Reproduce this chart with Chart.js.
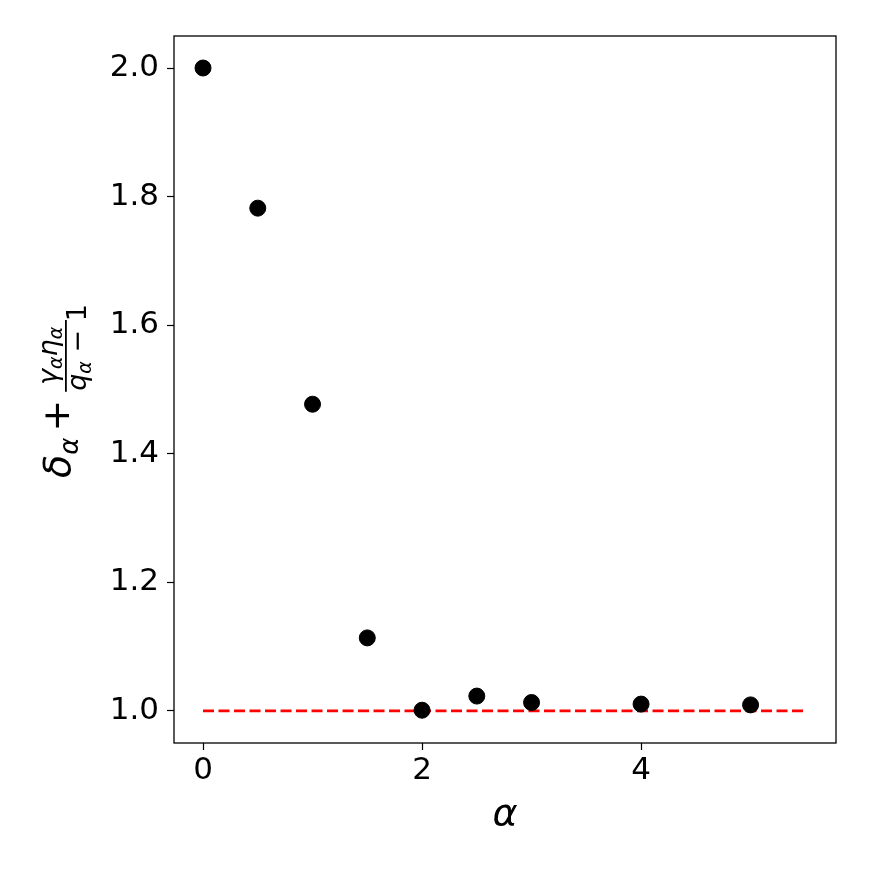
<!DOCTYPE html>
<html>
<head>
<meta charset="utf-8">
<script src="https://cdn.jsdelivr.net/npm/chart.js@4.4.0/dist/chart.umd.min.js"></script>
<style>
  html, body { margin: 0; padding: 0; background: #fff; }
  #wrap { width: 872px; height: 872px; }
</style>
</head>
<body>
<div id="wrap"><canvas id="chart" width="872" height="872"></canvas></div>
<script>
// values
const alphaVals = [0, 0.5, 1, 1.5, 2, 2.5, 3, 4, 5];
const sumVals = [2.0, 1.782, 1.477, 1.1135, 1.001, 1.023, 1.013, 1.0105, 1.0093];
const refX = [0, 5.5];
const refY = [1.0, 1.0];
const xTicks = [0, 2, 4];
const yTicks = [1.0, 1.2, 1.4, 1.6, 1.8, 2.0];

const FONT = "'DejaVu Sans', sans-serif";

// box around the plot + rotated math label for y axis
const framePlugin = {
  id: 'frame',
  afterDraw(chart) {
    const { ctx, chartArea: a } = chart;
    ctx.save();
    ctx.strokeStyle = '#000';
    ctx.lineWidth = 1.3;
    ctx.strokeRect(a.left, a.top, a.right - a.left, a.bottom - a.top);

    // y label: delta_a + (gamma_a eta_a)/(q_a - 1), baseline start at (70, 477)
    ctx.translate(70, 478);
    ctx.rotate(-Math.PI / 2);
    ctx.fillStyle = '#000';
    ctx.textBaseline = 'alphabetic';
    let x = 0;
    ctx.font = 'italic 38px ' + FONT;
    ctx.fillText('δ', x, 0);
    x += ctx.measureText('δ').width;
    ctx.font = 'italic 26px ' + FONT;
    ctx.fillText('α', x, 8);
    x += ctx.measureText('α').width + 6;
    ctx.font = '38px ' + FONT;
    ctx.fillText('+', x, -1);
    x += ctx.measureText('+').width + 8;

    const drawSym = (s, sx, y, dry) => {
      ctx.font = 'italic 27px ' + FONT;
      if (!dry) ctx.fillText(s, sx, y);
      let w = ctx.measureText(s).width;
      ctx.font = 'italic 19px ' + FONT;
      if (!dry) ctx.fillText('α', sx + w, y + 5);
      return w + ctx.measureText('α').width;
    };
    const numW = drawSym('γ', 0, 0, true) + drawSym('η', 0, 0, true);
    ctx.font = '27px ' + FONT;
    const tail = ' − 1';
    const denW = drawSym('q', 0, 0, true) + ctx.measureText(tail).width;
    const fw = Math.max(numW, denW) + 2;
    ctx.fillRect(x, -5, fw, 1.8);
    let nx = x + (fw - numW) / 2;
    nx += drawSym('γ', nx, -13);
    drawSym('η', nx, -13);
    let dx = x + (fw - denW) / 2;
    dx += drawSym('q', dx, 16);
    ctx.font = '27px ' + FONT;
    ctx.fillText(tail, dx, 16);
    ctx.restore();
  }
};

const ctx = document.getElementById('chart').getContext('2d');
new Chart(ctx, {
  type: 'scatter',
  data: {
    datasets: [
      {
        label: 'ref',
        type: 'line',
        data: refX.map((v, i) => ({ x: v, y: refY[i] })),
        borderColor: '#ff0000',
        borderWidth: 2.8,
        borderDash: [11, 4.5],
        pointRadius: 0,
        fill: false,
        order: 2
      },
      {
        label: 'values',
        data: alphaVals.map((v, i) => ({ x: v, y: sumVals[i] })),
        backgroundColor: '#000',
        borderColor: '#000',
        pointRadius: 8,
        pointHoverRadius: 8,
        order: 1
      }
    ]
  },
  options: {
    responsive: false,
    animation: false,
    layout: { padding: { top: 36, right: 36, left: 0, bottom: 30 } },
    plugins: { legend: { display: false }, tooltip: { enabled: false } },
    scales: {
      x: {
        type: 'linear',
        min: -0.265,
        max: 5.78,
        afterBuildTicks: s => { s.ticks = xTicks.map(v => ({ value: v })); },
        afterFit: s => { s.height = 99; },
        grid: { drawOnChartArea: false, drawTicks: true, tickLength: 7, color: '#000', tickWidth: 1.2 },
        border: { display: false },
        ticks: { color: '#000', font: { family: FONT, size: 31 }, padding: 2, maxRotation: 0 },
        title: { display: true, text: 'α', color: '#000', font: { family: FONT, size: 38, style: 'italic' }, padding: { top: 0 } }
      },
      y: {
        type: 'linear',
        min: 0.950,
        max: 2.0498,
        afterBuildTicks: s => { s.ticks = yTicks.map(v => ({ value: v })); },
        afterFit: s => { s.width = 174; },
        grid: { drawOnChartArea: false, drawTicks: true, tickLength: 7, color: '#000', tickWidth: 1.2 },
        border: { display: false },
        ticks: { color: '#000', font: { family: FONT, size: 31 }, padding: 8, callback: v => v.toFixed(1) }
      }
    }
  },
  plugins: [framePlugin]
});
</script>
</body>
</html>
